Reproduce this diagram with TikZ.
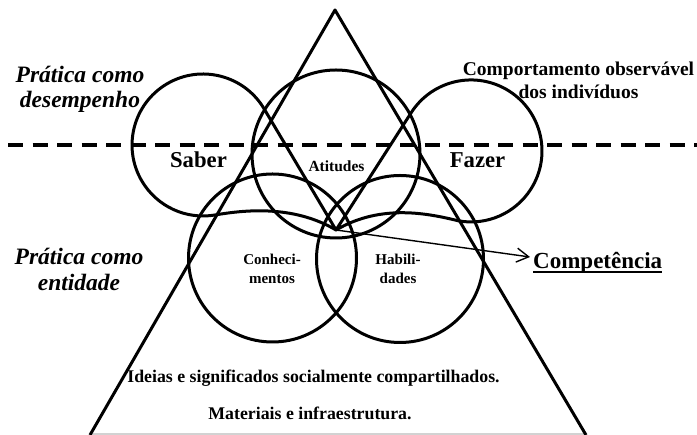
\documentclass[tikz,border=0pt]{standalone}
\usepackage{fontspec}
\setmainfont{Liberation Serif}
\usetikzlibrary{arrows.meta}
\newcommand{\fsz}[2]{\fontsize{#1}{#2}\selectfont}
\begin{document}
\begin{tikzpicture}[x=1pt, y=1pt,
  outline/.style={line width=3pt, line join=round},
  ring/.style={circle, draw, line width=3pt, inner sep=0pt, minimum size=#1},
  lbl/.style={inner sep=0pt},
  sidelbl/.style={inner sep=0pt, align=center},
  link/.style={line width=1.4pt, -{Straight Barb[length=12pt, width=14pt, line width=1.4pt]}}
]
\useasboundingbox (0,0) rectangle (697,435);

% pyramid and its faint base
\coordinate (apex) at (335,425);
\coordinate (baseL) at (90,0);
\coordinate (baseR) at (586,0);
\draw[gray!35, line width=1.2pt] ([yshift=1pt]baseL) -- ([yshift=1pt]baseR);
\draw[outline] (baseL) -- (apex) -- (baseR);

% dashed divider between the two levels of practice
\coordinate (divL) at (8,290);
\coordinate (divR) at (697,290);
\draw[line width=3.2pt, dash pattern=on 15pt off 9.5pt] (divL) -- (divR);

% meeting point of the petals
\coordinate (T) at (336,205);

% Saber petal
\draw[outline] (T) -- (264.1,326.2)
  arc[start angle=30.66, end angle=280, radius=71]
  .. controls (242,224.5) and (292,231) .. (T) -- cycle;

% Fazer petal
\draw[outline] (T) -- (411.25,322.4)
  arc[start angle=147.3, end angle=-100, radius=71]
  .. controls (430,221) and (382,232) .. (T) -- cycle;

% circles
\node[ring=168pt] (atit) at (336,281) {};
\node[ring=168pt] (conh) at (272.5,177) {};
\node[ring=167pt] (habi) at (400,176) {};

% side labels
\node[sidelbl, font=\fsz{23.5}{25}\bfseries\itshape] (desemp) at (80,345.3) {Prática como\\desempenho};
\node[sidelbl, font=\fsz{23.5}{26}\bfseries\itshape] (entid) at (79,165.2) {Prática como\\entidade};
\node[sidelbl, font=\fsz{19.5}{23}\bfseries] (comport) at (578.5,354.3) {Comportamento observável\\dos indivíduos};

% petal labels
\node[lbl, font=\fsz{22.7}{26}\bfseries, anchor=base] (saber) at (198.5,267) {Saber};
\node[lbl, font=\fsz{22.7}{26}\bfseries, anchor=base] (fazer) at (477.5,267) {Fazer};
\node[lbl, font=\fsz{15.5}{19}\bfseries, anchor=base] (atitl) at (336.5,263.3) {Atitudes};
\node[sidelbl, font=\fsz{15}{19}\bfseries] (conhl) at (272,166.6) {Conheci-\\mentos};
\node[sidelbl, font=\fsz{15}{19}\bfseries] (habil) at (398,166.6) {Habili-\\dades};

% competence
\node[lbl, font=\fsz{23}{27}\bfseries, anchor=base west] (comp) at (533,166) {Competência};
\draw[line width=2pt] ([yshift=-3.5pt]comp.base west) -- ([yshift=-3.5pt]comp.base east);
\draw[link] (T) -- ([shift={(-3pt,12pt)}]comp.base west);

% base of the pyramid
\node[lbl, font=\fsz{17.8}{21}\bfseries, anchor=base] (ideias) at (313.5,52) {Ideias e significados socialmente compartilhados.};
\node[lbl, font=\fsz{17.8}{21}\bfseries, anchor=base] (mater) at (310,15) {Materiais e infraestrutura.};
\end{tikzpicture}
\end{document}
